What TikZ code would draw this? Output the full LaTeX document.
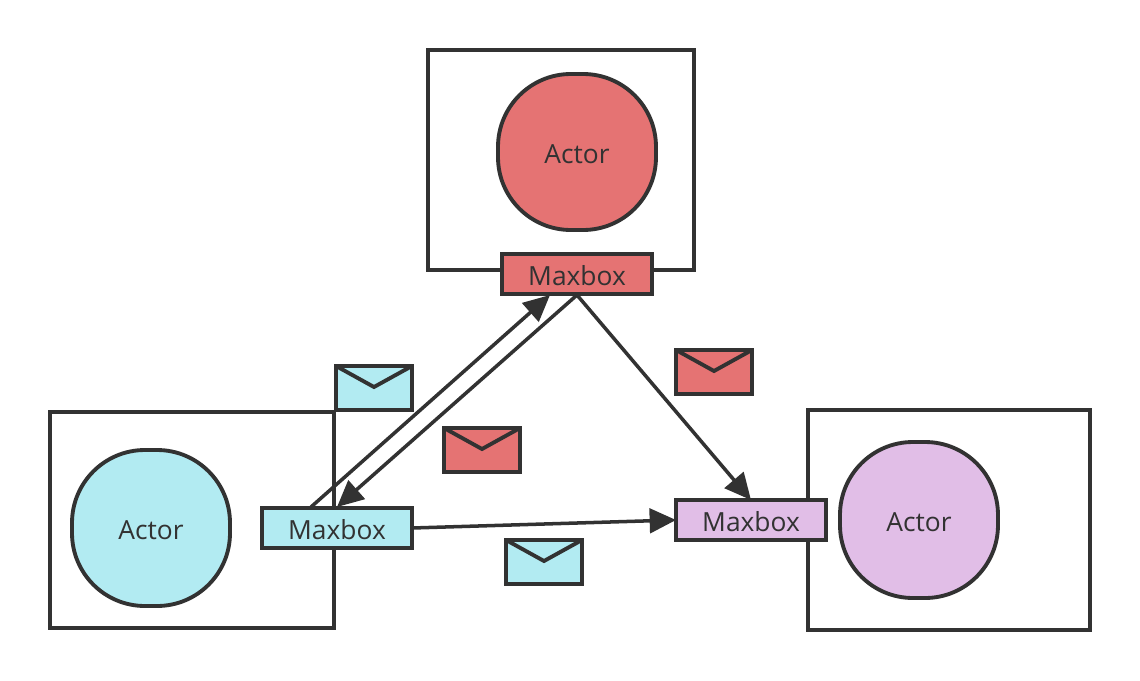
\documentclass[tikz,border=0pt]{standalone}
\usepackage{fontspec}
\setmainfont{Open Sans}
\usetikzlibrary{arrows.meta}
\definecolor{inkc}{HTML}{323232}
\definecolor{redc}{HTML}{E57373}
\definecolor{bluec}{HTML}{B2EBF2}
\definecolor{purplec}{HTML}{E1BEE7}
\newlength{\px}
\setlength{\px}{0.02cm}
\tikzset{
  outline/.style={draw=inkc,line width=2.2pt,outer sep=0pt,inner sep=0pt},
  label/.style={text=inkc,text height=13pt,text depth=0pt,font=\fontsize{15pt}{18pt}\selectfont},
  box/.style={outline,fill=white,anchor=north west},
  actor/.style={outline,label,rounded corners=41.5pt,minimum width=158\px,minimum height=156\px},
  maxbox/.style={outline,label,minimum width=150\px,minimum height=40\px},
  mail/.style={outline,minimum width=76\px,minimum height=44\px},
  conn/.style={draw=inkc,line width=2pt,-{Triangle[length=15pt,width=14pt]}},
}
\begin{document}
\begin{tikzpicture}[x=0.02cm,y=-0.02cm]
\useasboundingbox (0,0) rectangle (1140,680);

\node[box,minimum width=266\px,minimum height=220\px] (topframe) at (428,50) {};
\node[box,minimum width=284\px,minimum height=216\px] (leftframe) at (50,412) {};
\node[box,minimum width=282\px,minimum height=220\px] (rightframe) at (808,410) {};

\node[actor,fill=redc] (topactor) at (577,152) {Actor};
\node[actor,fill=bluec] (leftactor) at (151,528) {Actor};
\node[actor,fill=purplec] (rightactor) at (919,520) {Actor};

\node[maxbox,fill=redc] (topmax) at (577,274) {Maxbox};
\node[maxbox,fill=bluec] (leftmax) at (337,528) {Maxbox};
\node[maxbox,fill=purplec] (rightmax) at (751,520) {Maxbox};

\coordinate (leftout) at (311,507);
\coordinate (topin) at (550,295);
\coordinate (topout) at (577,295);
\coordinate (leftin) at (337,507);
\draw[conn] (leftout) -- (topin);
\draw[conn] (topout) -- (leftin);
\draw[conn] (topout) -- (rightmax.north);
\draw[conn] (leftmax.east) -- (rightmax.west);

\foreach \n/\x/\y/\c in {a/374/388/bluec,b/482/450/redc,c/714/372/redc,d/544/562/bluec}{
  \node[mail,fill=\c] (mail\n) at (\x,\y) {};
  \draw[draw=inkc,line width=2.2pt] (mail\n.north west) -- ([yshift=1\px]mail\n.center) -- (mail\n.north east);
}
\end{tikzpicture}
\end{document}
